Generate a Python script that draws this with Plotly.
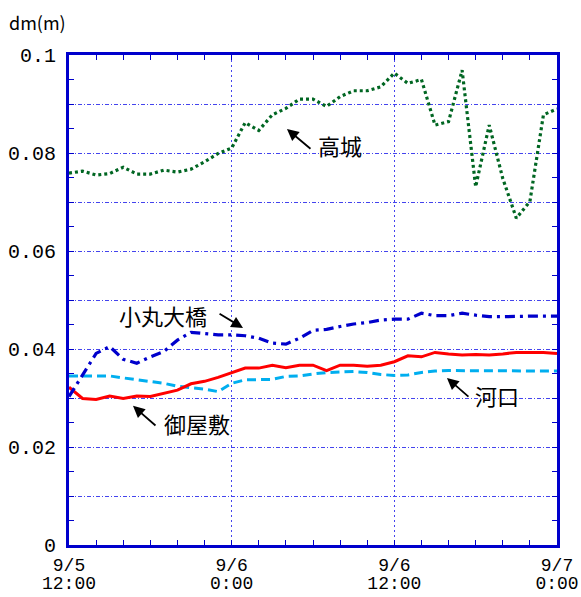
import pandas as pd
import plotly.graph_objects as go

times = pd.date_range("2023-09-05 12:00", "2023-09-07 00:00", freq="1h")

takagi = [0.0759, 0.0763, 0.0755, 0.0758, 0.0771, 0.0757, 0.0757, 0.0765, 0.0761, 0.0767,
          0.0782, 0.0799, 0.0810, 0.0862, 0.0846, 0.0878, 0.0891, 0.0910, 0.0910, 0.0895,
          0.0915, 0.0927, 0.0927, 0.0935, 0.0963, 0.0942, 0.0950, 0.0857, 0.0864, 0.0969,
          0.0731, 0.0857, 0.0748, 0.0667, 0.0701, 0.0878, 0.0890]
komaru = [0.0303, 0.0347, 0.0391, 0.0405, 0.0379, 0.0371, 0.0384, 0.0395, 0.0418, 0.0434,
          0.0432, 0.0429, 0.0429, 0.0427, 0.0422, 0.0412, 0.0410, 0.0422, 0.0438, 0.0440,
          0.0446, 0.0451, 0.0454, 0.0459, 0.0461, 0.0461, 0.0473, 0.0468, 0.0468, 0.0473,
          0.0469, 0.0466, 0.0466, 0.0467, 0.0467, 0.0467, 0.0467]
oyashiki = [0.0322, 0.0299, 0.0297, 0.0304, 0.0299, 0.0304, 0.0303, 0.0310, 0.0316, 0.0329,
            0.0334, 0.0342, 0.0352, 0.0361, 0.0361, 0.0367, 0.0362, 0.0367, 0.0367, 0.0356,
            0.0367, 0.0367, 0.0365, 0.0367, 0.0374, 0.0386, 0.0384, 0.0393, 0.0390, 0.0388,
            0.0389, 0.0388, 0.0390, 0.0393, 0.0393, 0.0393, 0.0391]
kakou = [0.0345, 0.0345, 0.0345, 0.0345, 0.0341, 0.0337, 0.0333, 0.0330, 0.0324, 0.0321,
         0.0318, 0.0313, 0.0330, 0.0337, 0.0337, 0.0338, 0.0344, 0.0345, 0.0349, 0.0352,
         0.0353, 0.0354, 0.0352, 0.0348, 0.0346, 0.0347, 0.0352, 0.0355, 0.0356, 0.0356,
         0.0356, 0.0356, 0.0356, 0.0355, 0.0355, 0.0355, 0.0355]

x_tickvals = pd.date_range("2023-09-05 12:00", "2023-09-07 00:00", freq="12h")
x_date_text = ["9/5", "9/6", "9/6", "9/7"]
x_time_text = ["12:00", "0:00", "12:00", "0:00"]
y_tickvals = [i / 100 for i in range(11)]
y_ticktext = ["0", "", "0.02", "", "0.04", "", "0.06", "", "0.08", "", "0.1"]

AX = "#0000CC"
GRID = "#4444EE"
JP = "Noto Sans CJK JP"
MONO = "Liberation Mono"

fig = go.Figure()
fig.add_trace(go.Scatter(x=times, y=kakou, mode="lines", name="河口",
                         line=dict(color="#00AEEF", width=3, dash="9px,5px")))
fig.add_trace(go.Scatter(x=times, y=oyashiki, mode="lines", name="御屋敷",
                         line=dict(color="#FF0000", width=3)))
fig.add_trace(go.Scatter(x=times, y=komaru, mode="lines", name="小丸大橋",
                         line=dict(color="#0000CC", width=3.2, dash="10px,5px,3px,5px")))
fig.add_trace(go.Scatter(x=times, y=takagi, mode="lines", name="高城",
                         line=dict(color="#006622", width=3.2, dash="3px,3px")))
# invisible helper trace so the second (time-of-day label) axis is drawn
fig.add_trace(go.Scatter(x=[times[0], times[-1]], y=[None, None], xaxis="x2",
                         mode="lines", hoverinfo="skip", showlegend=False))

t0 = times[0]
def hx(h):
    return t0 + pd.Timedelta(hours=h)

arrows = [
    (16.08, 0.0849, 25, 21),
    (12.84, 0.0443, -25, -15),
    (4.72, 0.0284, 24, 21),
    (27.88, 0.0341, 23, 20),
]
for h, v, ax, ay in arrows:
    fig.add_annotation(x=hx(h), y=v, ax=ax, ay=ay, text="", showarrow=True,
                       arrowhead=2, arrowsize=1.3, arrowwidth=1.8, arrowcolor="black")

labels = [
    ("高城", 20.0, 0.0817),
    ("小丸大橋", 6.93, 0.0469),
    ("御屋敷", 9.44, 0.0249),
    ("河口", 31.57, 0.0306),
]
for t, h, v in labels:
    fig.add_annotation(x=hx(h), y=v, text=t, showarrow=False,
                       font=dict(family=JP, size=22, color="black"))

fig.add_annotation(xref="paper", yref="paper", x=-0.128, y=1.068, xanchor="left",
                   yanchor="middle", text="dm(m)", showarrow=False,
                   font=dict(family=JP, size=18, color="black"))

fig.update_layout(
    xaxis=dict(
        type="date",
        range=[times[0], times[-1]],
        tickmode="array", tickvals=x_tickvals, ticktext=x_date_text,
        ticks="inside", ticklen=5, tickcolor=AX,
        minor=dict(dtick=7200000, ticks="inside", ticklen=5, tickcolor=AX, showgrid=False),
        showgrid=True, gridcolor=GRID, gridwidth=1, griddash="2px,3px",
        showline=True, linecolor=AX, linewidth=3, mirror="ticks",
        zeroline=False, automargin=False, ticklabeloverflow="allow",
        tickfont=dict(family=MONO, size=18, color="black"),
        ticklabelstandoff=1,
    ),
    xaxis2=dict(
        type="date", overlaying="x", anchor="y", side="bottom",
        range=[times[0], times[-1]],
        tickmode="array", tickvals=x_tickvals, ticktext=x_time_text,
        ticks="", showgrid=False, showline=False, zeroline=False,
        automargin=False, ticklabeloverflow="allow",
        tickfont=dict(family=MONO, size=18, color="black"),
        ticklabelstandoff=25,
    ),
    yaxis=dict(
        range=[0, 0.1],
        tickmode="array", tickvals=y_tickvals, ticktext=y_ticktext,
        ticks="inside", ticklen=5, tickcolor=AX,
        minor=dict(dtick=0.005, ticks="inside", ticklen=5, tickcolor=AX, showgrid=False),
        showgrid=True, gridcolor=GRID, gridwidth=1, griddash="4px,2px,1px,2px",
        showline=True, linecolor=AX, linewidth=3, mirror="ticks",
        zeroline=False, automargin=False,
        tickfont=dict(family=MONO, size=20, color="black"),
        ticklabelstandoff=6,
    ),
    width=581, height=597,
    margin=dict(l=69, r=24, t=55, b=52),
    plot_bgcolor="white", paper_bgcolor="white",
    showlegend=False,
)

fig.write_html("out.html")
